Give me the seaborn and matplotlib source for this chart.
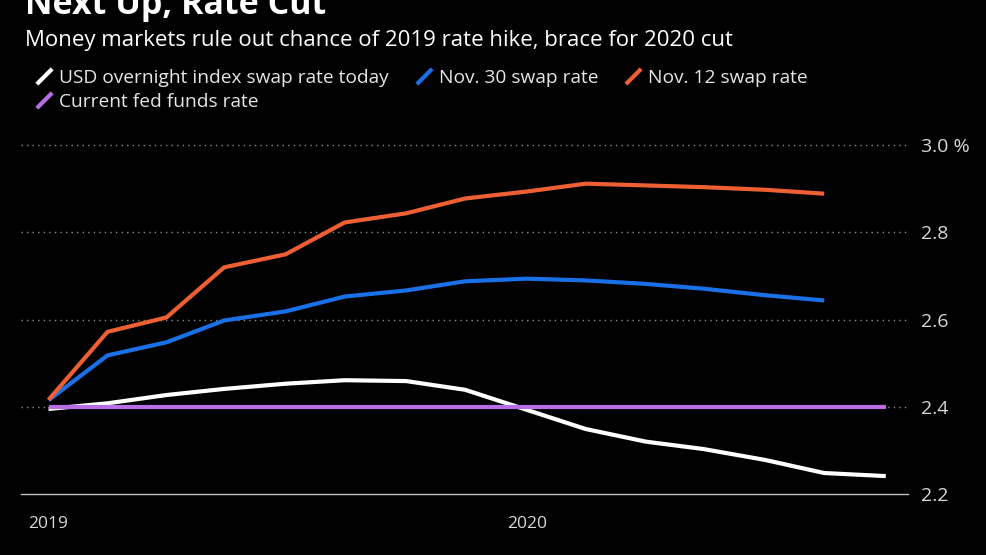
import pandas as pd
import numpy as np
import matplotlib.pyplot as plt
from matplotlib.lines import Line2D
import seaborn as sns

# Data
dates = ['2019-01-01', '2019-02-15', '2019-04-01', '2019-05-15', '2019-07-01',
         '2019-08-15', '2019-10-01', '2019-11-15', '2020-01-01', '2020-02-15',
         '2020-04-01', '2020-05-15', '2020-07-01', '2020-08-15', '2020-10-01']
usd_today = [2.395, 2.408, 2.427, 2.441, 2.453, 2.461, 2.459, 2.439, 2.393,
             2.349, 2.320, 2.303, 2.278, 2.248, 2.241]
nov30 = [2.415, 2.518, 2.548, 2.598, 2.619, 2.653, 2.667, 2.688, 2.694,
         2.690, 2.682, 2.671, 2.656, 2.644]
nov12 = [2.416, 2.572, 2.605, 2.720, 2.750, 2.823, 2.844, 2.878, 2.894,
         2.912, 2.908, 2.904, 2.898, 2.889]
fed_funds = [2.40] * 15

labels = ['USD overnight index swap rate today', 'Nov. 30 swap rate',
          'Nov. 12 swap rate', 'Current fed funds rate']
colors = {'USD overnight index swap rate today': '#ffffff',
          'Nov. 30 swap rate': '#1a70e6',
          'Nov. 12 swap rate': '#ee6033',
          'Current fed funds rate': '#b86de6'}

yticks = [2.2, 2.4, 2.6, 2.8, 3.0]
ytick_labels = ['2.2', '2.4', '2.6', '2.8', '3.0 %']
xticks = ['2019-01-01', '2020-01-01']
xtick_labels = ['2019', '2020']

frames = []
for name, vals in [(labels[0], usd_today), (labels[1], nov30),
                   (labels[2], nov12), (labels[3], fed_funds)]:
    frames.append(pd.DataFrame({'date': pd.to_datetime(dates[:len(vals)]),
                                'rate': vals, 'series': name}))
df = pd.concat(frames, ignore_index=True)

sns.set_style('dark')
plt.rcParams['font.family'] = ['Open Sans', 'DejaVu Sans']

fig = plt.figure(figsize=(9.87, 5.55), dpi=100, facecolor='black')
ax = fig.add_axes([0.0213, 0.110, 0.8987, 0.636])
ax.set_facecolor('black')

# draw order: white, blue, orange, purple on top
for name in [labels[0], labels[1], labels[2], labels[3]]:
    sns.lineplot(data=df[df.series == name], x='date', y='rate',
                 color=colors[name], linewidth=3.0, ax=ax, legend=False,
                 solid_capstyle='butt', zorder=3)

ax.set_xlim(pd.Timestamp('2018-12-11'), pd.Timestamp('2020-10-18'))
ax.set_ylim(2.2, 3.01)

# grid
for y in yticks[1:]:
    ax.axhline(y, color='#8a8a8a', linewidth=1.0, linestyle=(0, (1, 3)), zorder=1)

for s in ['top', 'left', 'right']:
    ax.spines[s].set_visible(False)
ax.spines['bottom'].set_color('#bdbdbd')
ax.spines['bottom'].set_linewidth(1.0)

ax.yaxis.tick_right()
ax.set_yticks(yticks)
ax.set_yticklabels(ytick_labels)
ax.tick_params(axis='y', length=0, pad=9, labelsize=14, labelcolor='#d9d9d9')
ax.set_xticks(pd.to_datetime(xticks))
ax.set_xticklabels(xtick_labels)
ax.tick_params(axis='x', length=6, width=1, color='#bdbdbd', pad=10,
               labelsize=12.5, labelcolor='#d9d9d9', direction='out')
ax.set_xlabel('')
ax.set_ylabel('')
ax.grid(False)

# title and subtitle
fig.text(0.025, 0.975, 'Next Up, Rate Cut', color='white', fontsize=24.5,
         fontweight='bold', va='baseline', ha='left')
fig.text(0.025, 0.917, 'Money markets rule out chance of 2019 rate hike, brace for 2020 cut',
         color='white', fontsize=16, va='baseline', ha='left')

# legend with slanted line markers
slash = [(-1, -1), (1, 1)]
order = [labels[0], labels[3], labels[1], labels[2]]
handles = [Line2D([], [], linestyle='none', marker=slash, markersize=11,
                  markeredgewidth=3, markeredgecolor=colors[n], color=colors[n])
           for n in order]
fig.legend(handles, order, loc='upper left', bbox_to_anchor=(0.037, 0.876),
           ncol=3, frameon=False, fontsize=13.75, labelcolor='#e6e6e6',
           handlelength=0.8, handletextpad=0.4, columnspacing=1.4,
           labelspacing=0.3, borderaxespad=0, borderpad=0)

fig.savefig('out.png', dpi=100, facecolor='black')
